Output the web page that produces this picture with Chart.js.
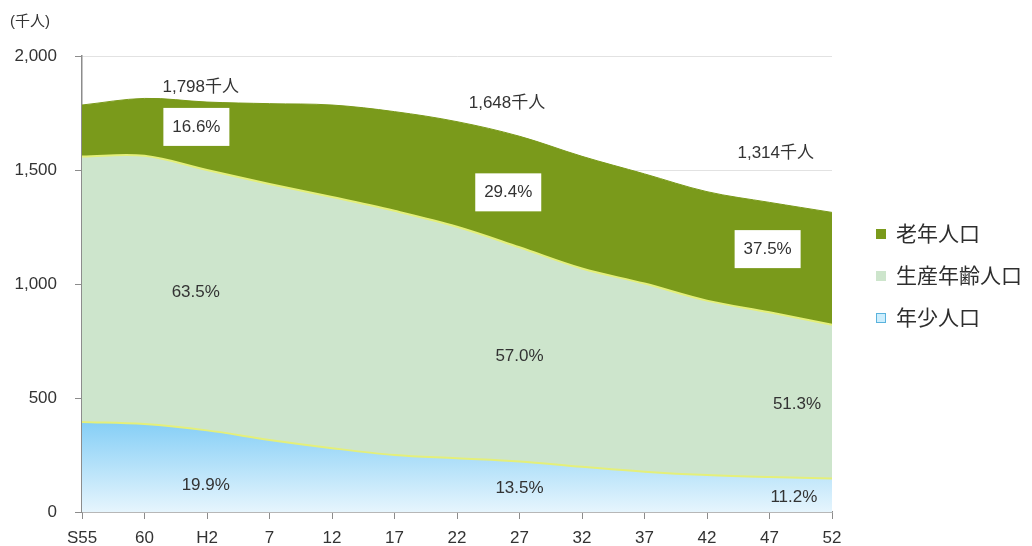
<!DOCTYPE html>
<html lang="ja">
<head>
<meta charset="utf-8">
<title>人口推移</title>
<script src="https://cdn.jsdelivr.net/npm/chart.js@4.4.1/dist/chart.umd.min.js"></script>
<style>
  html, body { margin: 0; padding: 0; background: #fff; }
  #wrap { position: relative; width: 1032px; height: 546px; font-family: "Liberation Sans", "Noto Sans CJK JP", sans-serif; color: #333; }
  #unit { position: absolute; left: 10px; top: 9px; font-size: 15px; }
  #legend { position: absolute; left: 876px; top: 213px; font-size: 21px; color: #2e2e2e; }
  #legend div { height: 42px; line-height: 30px; display: flex; align-items: center; }
  #legend span.box { width: 8px; height: 8px; margin-right: 10px; display: inline-block; }
</style>
</head>
<body>
<div id="wrap">
  <canvas id="myChart" width="1032" height="546"></canvas>
  <div id="unit">(千人)</div>
  <div id="legend"></div>
</div>
<script>
'use strict';

// Data
let years = ['S55', '60', 'H2', '7', '12', '17', '22', '27', '32', '37', '42', '47', '52'];
let seriesNames = ['年少人口', '生産年齢人口', '老年人口'];
let young = [395, 386, 358, 316, 280, 250, 236, 222, 198, 177, 162, 153, 147];
let working = [1164, 1176, 1142, 1123, 1102, 1071, 1015, 939, 870, 825, 765, 723, 674];
let elderly = [226, 252, 298, 352, 403, 435, 461, 487, 492, 481, 478, 482, 493];
let yTicks = [0, 500, 1000, 1500, 2000];

// Labels placed in data space: category index, value
let totalLabels = [
  { i: 1.9, v: 1864, text: '1,798千人' },
  { i: 6.8, v: 1791, text: '1,648千人' },
  { i: 11.1, v: 1572, text: '1,314千人' }
];
let boxLabels = [
  { i: 1.83, v: 1689, text: '16.6%' },
  { i: 6.82, v: 1402, text: '29.4%' },
  { i: 10.97, v: 1153, text: '37.5%' }
];
let plainLabels = [
  { i: 1.82, v: 964, text: '63.5%' },
  { i: 7.0, v: 682, text: '57.0%' },
  { i: 11.44, v: 472, text: '51.3%' },
  { i: 1.98, v: 118, text: '19.9%' },
  { i: 7.0, v: 105, text: '13.5%' },
  { i: 11.39, v: 66, text: '11.2%' }
];

let fontFamily = '"Liberation Sans", "Noto Sans CJK JP", sans-serif';
let colors = {
  young: '#8fd2f6',
  working: '#cde5cc',
  elderly: '#7a9a1b',
  edge: '#e4ef7a'
};

// Legend (elderly first, like the picture)
let legendEl = document.getElementById('legend');
[['老年人口', colors.elderly, colors.elderly], ['生産年齢人口', colors.working, colors.working], ['年少人口', '#cdeefd', '#5ab3dd']].forEach(function(item){
  let row = document.createElement('div');
  row.innerHTML = '<span class="box" style="background:' + item[1] + ';border:1px solid ' + item[2] + '"></span>' + item[0];
  legendEl.appendChild(row);
});

function youngGradient(context){
  let chart = context.chart;
  let area = chart.chartArea;
  if (!area) {
    return colors.young;
  }
  let yScale = chart.scales.y;
  let g = chart.ctx.createLinearGradient(0, yScale.getPixelForValue(400), 0, area.bottom);
  g.addColorStop(0, '#84cef6');
  g.addColorStop(1, '#e6f5fd');
  return g;
}

let labelPlugin = {
  id: 'labelPlugin',
  afterDatasetsDraw: function(chart){
    let ctx = chart.ctx;
    let xs = chart.scales.x;
    let ys = chart.scales.y;
    ctx.save();
    ctx.font = '17px ' + fontFamily;
    ctx.textAlign = 'center';
    ctx.textBaseline = 'middle';
    ctx.fillStyle = '#333';
    totalLabels.forEach(function(l){
      ctx.fillText(l.text, xs.getPixelForValue(l.i), ys.getPixelForValue(l.v));
    });
    boxLabels.forEach(function(l){
      let x = xs.getPixelForValue(l.i);
      let y = ys.getPixelForValue(l.v);
      ctx.fillStyle = '#fff';
      ctx.fillRect(x - 33, y - 19, 66, 38);
      ctx.fillStyle = '#333';
      ctx.fillText(l.text, x, y);
    });
    plainLabels.forEach(function(l){
      ctx.fillText(l.text, xs.getPixelForValue(l.i), ys.getPixelForValue(l.v));
    });
    ctx.restore();
  }
};

let ctx = document.getElementById('myChart').getContext('2d');
new Chart(ctx, {
  type: 'line',
  data: {
    labels: years,
    datasets: [
      {
        label: seriesNames[0],
        data: young,
        fill: 'origin',
        backgroundColor: youngGradient,
        borderColor: colors.edge,
        borderWidth: 2,
        pointRadius: 0,
        tension: 0.35
      },
      {
        label: seriesNames[1],
        data: working,
        fill: '-1',
        backgroundColor: colors.working,
        borderColor: colors.edge,
        borderWidth: 2,
        pointRadius: 0,
        tension: 0.35
      },
      {
        label: seriesNames[2],
        data: elderly,
        fill: '-1',
        backgroundColor: colors.elderly,
        borderColor: colors.elderly,
        borderWidth: 1,
        pointRadius: 0,
        tension: 0.35
      }
    ]
  },
  options: {
    responsive: false,
    animation: false,
    layout: {
      padding: { top: 56, right: 200, bottom: 0, left: 0 }
    },
    plugins: {
      legend: { display: false },
      tooltip: { enabled: false }
    },
    scales: {
      x: {
        offset: false,
        grid: {
          drawOnChartArea: false,
          tickLength: 7,
          color: '#8c8c8c'
        },
        border: { color: '#8c8c8c', width: 1.5 },
        ticks: {
          font: { size: 17, family: fontFamily },
          color: '#333',
          padding: 9,
          maxRotation: 0,
          autoSkip: false
        },
        afterFit: function(scale){
          scale.height = 34;
        }
      },
      y: {
        stacked: true,
        min: 0,
        max: 2000,
        afterBuildTicks: function(scale){
          scale.ticks = yTicks.map(function(v){ return { value: v }; });
        },
        grid: {
          color: '#e2e2e2',
          tickLength: 7,
          tickColor: '#8c8c8c'
        },
        border: { color: '#8c8c8c', width: 1.5 },
        ticks: {
          font: { size: 17, family: fontFamily },
          color: '#333',
          padding: 18,
          callback: function(v){ return v.toLocaleString('en-US'); }
        },
        afterFit: function(scale){
          scale.width = 82;
        }
      }
    }
  },
  plugins: [labelPlugin]
});
</script>
</body>
</html>
